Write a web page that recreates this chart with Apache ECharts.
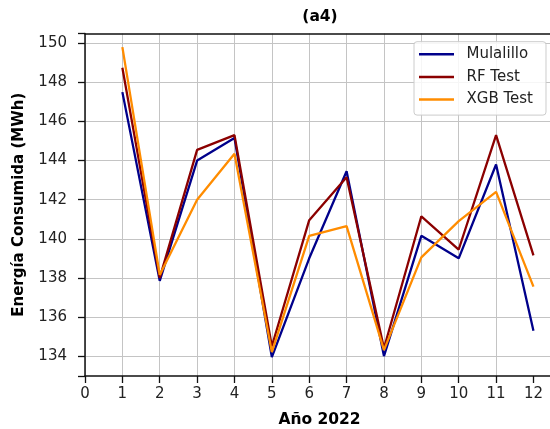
<!DOCTYPE html>
<html>
<head>
<meta charset="utf-8">
<script src="https://cdn.jsdelivr.net/npm/echarts@6/dist/echarts.min.js"></script>
<style>html,body{margin:0;padding:0;background:#fff;}#c{width:550px;height:429px;}</style>
</head>
<body>
<div id="c"></div>
<script>
const months = [1,2,3,4,5,6,7,8,9,10,11,12];
const mulalillo = [147.5,137.85,144.0,145.15,133.95,139.0,143.45,134.0,140.15,139.0,143.8,135.3];
const rfTest    = [148.75,138.0,144.55,145.3,134.5,140.95,143.15,134.4,141.15,139.45,145.3,139.15];
const xgbTest   = [149.8,138.15,142.0,144.35,134.2,140.15,140.65,134.3,139.05,140.9,142.4,137.55];
const seriesNames = ['Mulalillo','RF Test','XGB Test'];
const xTicks = [0,1,2,3,4,5,6,7,8,9,10,11,12];
const yTicks = [134,136,138,140,142,144,146,148,150];

const FONT = 'DejaVu Sans';
const toPairs = arr => months.map((m,i)=>[m, arr[i]]);
const chart = echarts.init(document.getElementById('c'), null, {renderer:'canvas'});
const lineStyle = c => ({color:c, width:2.3});
chart.setOption({
  animation:false,
  backgroundColor:'#fff',
  grid:{left:85, top:33.5, right:-4, bottom:53, containLabel:false, outerBoundsMode:'none'},
  graphic:[{type:'text', x:320, y:17, style:{text:'(a4)', font:'bold 15.5px "DejaVu Sans"', fill:'#000', textAlign:'center', textVerticalAlign:'middle'}}],
  legend:{
    orient:'vertical', left:414, top:41.7,
    padding:[4,13,7,5], itemGap:5.7, itemWidth:35, itemHeight:2.5,
    icon:'rect',
    backgroundColor:'rgba(255,255,255,0.85)', borderColor:'#cccccc', borderWidth:1, borderRadius:3,
    textStyle:{fontFamily:FONT, fontSize:15, color:'#222', lineHeight:17, padding:[0,0,0,7.5]},
    data:seriesNames
  },
  xAxis:[{
    type:'value', min:0, max:12.55, interval:1,
    name:'Año 2022', nameLocation:'middle', nameGap:36,
    nameTextStyle:{fontFamily:FONT, fontSize:15.5, fontWeight:'bold', color:'#000'},
    axisLine:{show:true, onZero:false, lineStyle:{color:'#111', width:1.5}},
    axisTick:{show:true, length:7, lineStyle:{color:'#111', width:1.3}, customValues:xTicks},
    axisLabel:{fontFamily:FONT, fontSize:15, color:'#222', margin:11, customValues:xTicks,
      formatter:v => (Number.isInteger(v) ? String(v) : '')},
    splitLine:{show:true, showMaxLine:false, lineStyle:{color:'#c4c4c4', width:1}}
  },{
    type:'value', position:'top', min:0, max:12.55,
    axisLine:{show:true, onZero:false, lineStyle:{color:'#111', width:1.5}},
    axisTick:{show:false}, axisLabel:{show:false}, splitLine:{show:false}
  }],
  yAxis:{
    type:'value', min:132.98, max:150.5, minInterval:2, maxInterval:2, splitNumber:9,
    name:'Energía Consumida (MWh)', nameLocation:'middle', nameGap:58,
    nameTextStyle:{fontFamily:FONT, fontSize:15, fontWeight:'bold', color:'#000'},
    axisLine:{show:true, onZero:false, lineStyle:{color:'#111', width:1.5}},
    axisTick:{show:true, length:7, lineStyle:{color:'#111', width:1.3}},
    axisLabel:{fontFamily:FONT, fontSize:15, color:'#222', margin:18,
      formatter:v => (yTicks.indexOf(Math.round(v*100)/100) >= 0 ? String(v) : '')},
    splitLine:{show:true, showMinLine:false, showMaxLine:false, lineStyle:{color:'#c4c4c4', width:1}}
  },
  series:[
    {name:seriesNames[0], type:'line', data:toPairs(mulalillo), showSymbol:false, symbol:'none', lineStyle:lineStyle('#00008B'), itemStyle:{color:'#00008B'}},
    {name:seriesNames[1], type:'line', data:toPairs(rfTest), showSymbol:false, symbol:'none', lineStyle:lineStyle('#8B0000'), itemStyle:{color:'#8B0000'}},
    {name:seriesNames[2], type:'line', data:toPairs(xgbTest), showSymbol:false, symbol:'none', lineStyle:lineStyle('#FF8C00'), itemStyle:{color:'#FF8C00'}}
  ]
});
</script>
</body>
</html>
